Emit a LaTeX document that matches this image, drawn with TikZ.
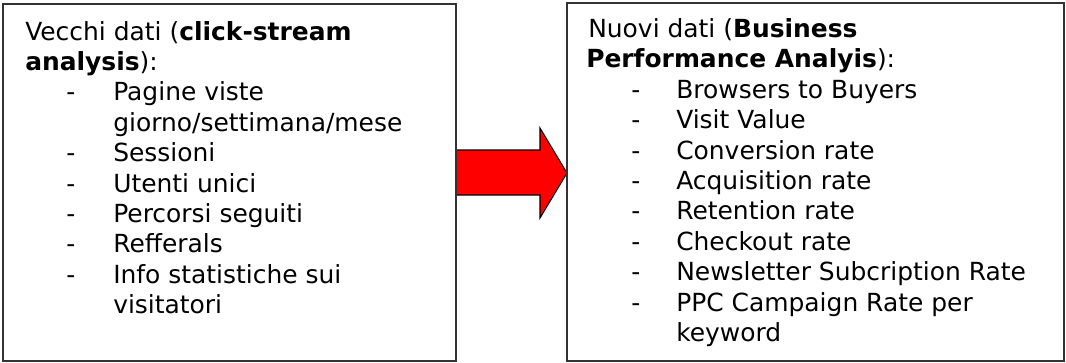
\documentclass[tikz,border=0pt]{standalone}
\usepackage{fontspec}
\setmainfont{DejaVu Sans}
\usepackage{xcolor}
\usetikzlibrary{positioning}
\tikzset{%
  boxline/.style={draw=black!80, line width=1pt},
  bigarrow/.style={draw=black, fill=red, line width=0.8pt, line join=miter},
  txt/.style={anchor=base west, inner sep=0pt, font=\fontsize{18.7}{22}\selectfont},
}

\begin{document}
\begin{tikzpicture}[x=0.75pt,y=-0.75pt]
\useasboundingbox (0,0) rectangle (1066,362);
% freccia rossa tra i due riquadri
\filldraw[bigarrow] (456,150) -- (540,150) -- (540,128) -- (567,173) -- (540,218) -- (540,195) -- (456,195) -- cycle;
% riquadri
\draw[boxline] (3,4) rectangle (456,361);
\draw[boxline] (567,3) rectangle (1064,361);
% vecchi dati
\node[txt] (oldA) at (25,40) {Vecchi dati (\textbf{click-stream}};
\node[txt] (oldB) at (25,70.4) {\textbf{analysis}):};
\node[txt] (oldD1) at (66,100.8) {-};
\node[txt] (old1) at (113,100.8) {Pagine viste};
\node[txt] (old1b) at (113,131.2) {giorno/settimana/mese};
\node[txt] (oldD2) at (66,161.6) {-};
\node[txt] (old2) at (113,161.6) {Sessioni};
\node[txt] (oldD3) at (66,192) {-};
\node[txt] (old3) at (113,192) {Utenti unici};
\node[txt] (oldD4) at (66,222.4) {-};
\node[txt] (old4) at (113,222.4) {Percorsi seguiti};
\node[txt] (oldD5) at (66,252.8) {-};
\node[txt] (old5) at (113,252.8) {Refferals};
\node[txt] (oldD6) at (66,283.2) {-};
\node[txt] (old6) at (113,283.2) {Info statistiche sui};
\node[txt] (old6b) at (113,313.6) {visitatori};
% nuovi dati
\node[txt] (newA) at (588,37.5) {Nuovi dati (\textbf{Business}};
\node[txt] (newB) at (586,67.9) {\textbf{Performance Analyis}):};
\node[txt] (newD1) at (631,98.3) {-};
\node[txt] (new1) at (676,98.3) {Browsers to Buyers};
\node[txt] (newD2) at (631,128.7) {-};
\node[txt] (new2) at (676,128.7) {Visit Value};
\node[txt] (newD3) at (631,159.1) {-};
\node[txt] (new3) at (676,159.1) {Conversion rate};
\node[txt] (newD4) at (631,189.5) {-};
\node[txt] (new4) at (676,189.5) {Acquisition rate};
\node[txt] (newD5) at (631,219.9) {-};
\node[txt] (new5) at (676,219.9) {Retention rate};
\node[txt] (newD6) at (631,250.3) {-};
\node[txt] (new6) at (676,250.3) {Checkout rate};
\node[txt] (newD7) at (631,280.7) {-};
\node[txt] (new7) at (676,280.7) {Newsletter Subcription Rate};
\node[txt] (newD8) at (631,311.1) {-};
\node[txt] (new8) at (676,311.1) {PPC Campaign Rate per};
\node[txt] (new8b) at (676,341.5) {keyword};
\end{tikzpicture}
\end{document}
